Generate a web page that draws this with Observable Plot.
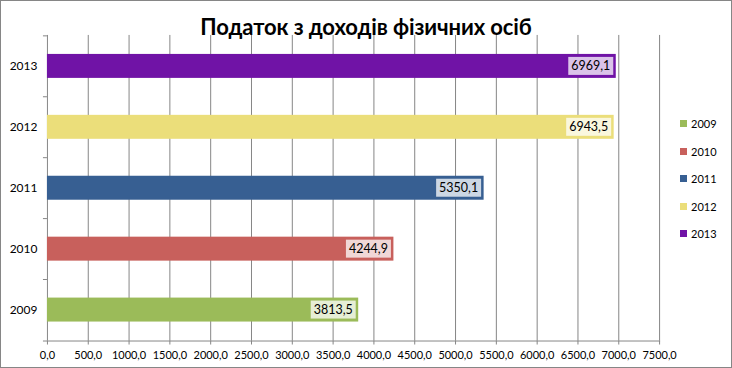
<!DOCTYPE html>
<html>
<head>
<meta charset="utf-8">
<script src="https://cdn.jsdelivr.net/npm/d3@7"></script>
<script src="https://cdn.jsdelivr.net/npm/@observablehq/plot@0.6"></script>
<style>
  html, body { margin: 0; padding: 0; background: #fff; }
  #wrap { position: relative; width: 730px; height: 366px; border: 1px solid #868686; overflow: hidden; font-family: Lato, "Open Sans", sans-serif; }
  #title { position: absolute; left: 0; right: 0; top: 12px; text-align: center; font-weight: bold; font-size: 22px; color: #000; letter-spacing: -0.1px; }
  #chart { position: absolute; left: -1px; top: -1px; }
  #legend { position: absolute; left: 679px; top: 109px; font-size: 11px; color: #000; }
  #legend .item { height: 27.5px; display: flex; align-items: center; }
  #legend .sw { width: 7px; height: 7px; margin-right: 4px; }
</style>
</head>
<body>
<div id="wrap">
  <div id="chart"></div>
  <div id="title">Податок з доходів фізичних осіб</div>
  <div id="legend"></div>
</div>
<script>
const years = ["2009", "2010", "2011", "2012", "2013"];
const values = [3813.5, 4244.9, 5350.1, 6943.5, 6969.1];
const colors = ["#9bbb59", "#c8605c", "#375f92", "#ebde7a", "#7013a6"];
const xTicks = [0, 500, 1000, 1500, 2000, 2500, 3000, 3500, 4000, 4500, 5000, 5500, 6000, 6500, 7000, 7500];

const data = years.map((y, i) => ({year: y, value: values[i]}));
const fmt = v => v.toFixed(1).replace(".", ",");

const W = 732, H = 368, mt = 35, mb = 27, ml = 47, mr = 72;
const step = (H - mt - mb) / years.length;

const chart = Plot.plot({
  width: W,
  height: H,
  marginTop: mt,
  marginBottom: mb,
  marginLeft: ml,
  marginRight: mr,
  style: {fontFamily: "Lato, 'Open Sans', sans-serif", fontSize: "11px", color: "#000", background: "transparent"},
  x: {domain: [0, 7500], ticks: xTicks, tickFormat: fmt, label: null},
  y: {domain: [...years].reverse(), paddingInner: 0.6, paddingOuter: 0.3, label: null},
  color: {domain: years, range: colors},
  marks: [
    Plot.ruleX(xTicks, {x: d => d, stroke: "#868686", strokeWidth: 1}),
    Plot.ruleY(years, {y: d => d, x1: 0, x2: 0, insetLeft: -4, dy: -step / 2, stroke: "#868686"}),
    Plot.frame({anchor: "bottom", stroke: "#868686", insetLeft: -4}),
    Plot.barX(data, {x: "value", y: "year", fill: "year"}),
    Plot.text(data, {x: "value", y: "year", text: d => fmt(d.value), textAnchor: "end", dx: -6, fill: "#000", fontSize: 12.5, className: "vlabel"}),
    Plot.axisX({ticks: xTicks, tickFormat: fmt, tickSize: 4, tickPadding: 6, stroke: "#868686", fill: "#000", label: null}),
    Plot.axisY({tickSize: 0, tickPadding: 10, fill: "#000", fontSize: 12, label: null})
  ]
});
document.getElementById("chart").appendChild(chart);

// label backgrounds
d3.select(chart).selectAll("g.vlabel text").each(function() {
  const b = this.getBBox();
  const tr = this.getAttribute("transform");
  d3.select(this.parentNode).insert("rect", () => this)
    .attr("x", b.x - 3).attr("y", b.y - 1.5)
    .attr("width", b.width + 6).attr("height", b.height + 3)
    .attr("transform", tr)
    .attr("fill", "#fff").attr("fill-opacity", 0.75);
});

const legend = d3.select("#legend");
years.forEach((y, i) => {
  const it = legend.append("div").attr("class", "item");
  it.append("div").attr("class", "sw").style("background", colors[i]);
  it.append("span").text(y);
});
</script>
</body>
</html>
